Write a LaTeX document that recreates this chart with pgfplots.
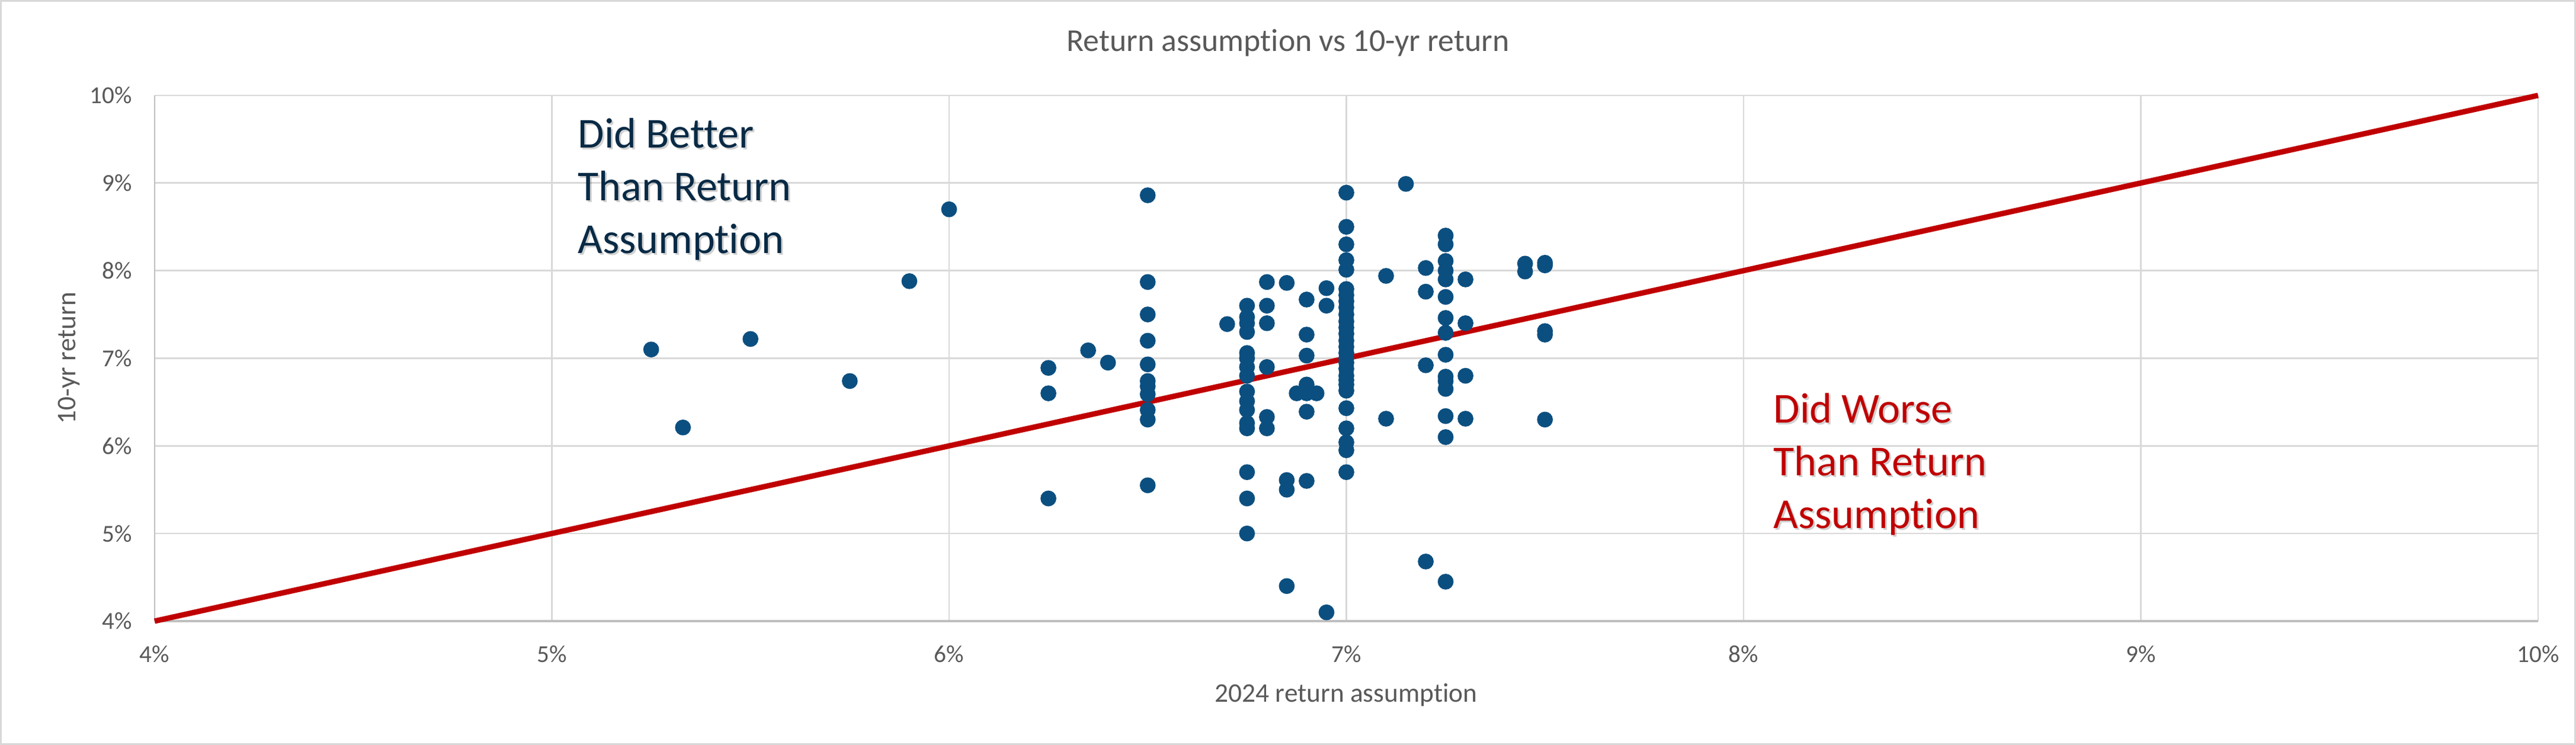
\documentclass[border=0pt]{standalone}
\usepackage{fontspec}
\setmainfont{Carlito}[Ligatures={NoCommon}]
\usepackage{pgfplots}
\pgfplotsset{compat=1.18}
\definecolor{gridgray}{HTML}{D9D9D9}
\definecolor{axisgray}{HTML}{BFBFBF}
\definecolor{txtgray}{HTML}{595959}
\definecolor{dotblue}{HTML}{0B4F80}
\definecolor{linered}{HTML}{C00000}
\definecolor{navytxt}{HTML}{082A45}
\begin{document}
\begin{tikzpicture}
\useasboundingbox (0,0) rectangle (434.8mm,125.7mm);
\draw[gridgray, line width=0.3mm] (0.15mm,0.15mm) rectangle (434.65mm,125.55mm);
\begin{axis}[
  scale only axis, width=402.3mm, height=88.7mm,
  at={(26.1mm,20.9mm)}, anchor=south west,
  xmin=4, xmax=10, ymin=4, ymax=10,
  xtick={4,...,10}, ytick={4,...,10},
  xticklabel={\pgfmathparse{int(round(\tick))}\pgfmathresult\%},
  yticklabel={\pgfmathparse{int(round(\tick))}\pgfmathresult\%},
  grid=major, major grid style={draw=gridgray, line width=0.27mm},
  axis x line*=bottom, axis y line*=left,
  x axis line style={draw=axisgray, line width=0.33mm, -},
  y axis line style={draw=axisgray, line width=0.23mm, -},
  major tick length=0pt, tick style={draw=none},
  ticklabel style={font=\fontsize{11.7}{14}\selectfont, text=txtgray},
  xticklabel style={yshift=-2.9mm},
  yticklabel style={xshift=-2.6mm},
  clip=false,
]
\addplot[linered, line width=2.6pt] coordinates {(4,4) (10,10)};
\addplot[only marks, mark=*, mark size=3.6pt, mark options={draw=dotblue, fill=dotblue}] coordinates {
(5.25,7.10) (5.33,6.21) (5.50,7.22) (5.75,6.74) (5.90,7.88) (6.00,8.70)
(6.25,6.89) (6.25,6.60) (6.25,5.40)
(6.35,7.09) (6.40,6.95)
(6.50,8.86) (6.50,7.87) (6.50,7.50) (6.50,7.20) (6.50,6.93) (6.50,6.74) (6.50,6.68) (6.50,6.59) (6.50,6.41) (6.50,6.30) (6.50,5.55)
(6.70,7.39)
(6.75,7.60) (6.75,7.47) (6.75,7.40) (6.75,7.30) (6.75,7.06) (6.75,7.00) (6.75,6.90) (6.75,6.80) (6.75,6.62) (6.75,6.51) (6.75,6.41) (6.75,6.26) (6.75,6.20) (6.75,5.70) (6.75,5.40) (6.75,5.00)
(6.80,7.87) (6.80,7.60) (6.80,7.40) (6.80,6.90) (6.80,6.33) (6.80,6.20)
(6.85,7.86) (6.85,5.61) (6.85,5.50) (6.85,4.40)
(6.875,6.60)
(6.90,7.67) (6.90,7.27) (6.90,7.03) (6.90,6.70) (6.90,6.60) (6.90,6.39) (6.90,5.60)
(6.925,6.60)
(6.95,7.80) (6.95,7.60) (6.95,4.10)
(7.00,8.89) (7.00,8.50) (7.00,8.30) (7.00,8.12) (7.00,8.01) (7.00,7.79) (7.00,7.72) (7.00,7.65) (7.00,7.58) (7.00,7.50) (7.00,7.42) (7.00,7.35) (7.00,7.28) (7.00,7.20) (7.00,7.13) (7.00,7.06) (7.00,7.00) (7.00,6.95) (7.00,6.88) (7.00,6.80) (7.00,6.75) (7.00,6.70) (7.00,6.63) (7.00,6.43) (7.00,6.20) (7.00,6.04) (7.00,5.95) (7.00,5.70)
(7.10,7.94) (7.10,6.31)
(7.15,8.99)
(7.20,8.03) (7.20,7.76) (7.20,6.92) (7.20,4.68)
(7.25,8.40) (7.25,8.30) (7.25,8.11) (7.25,8.00) (7.25,7.90) (7.25,7.70) (7.25,7.46) (7.25,7.29) (7.25,7.04) (7.25,6.79) (7.25,6.74) (7.25,6.65) (7.25,6.34) (7.25,6.10) (7.25,4.45)
(7.30,7.90) (7.30,7.40) (7.30,6.80) (7.30,6.31)
(7.45,8.08) (7.45,7.99)
(7.50,8.09) (7.50,8.06) (7.50,7.31) (7.50,7.27) (7.50,6.30)
};
\end{axis}
\node[anchor=base, font=\fontsize{15.3}{18}\selectfont, text=txtgray] at (217.4mm,117.0mm) {Return assumption vs 10-yr return};
\node[anchor=base, font=\fontsize{12.9}{15}\selectfont, text=txtgray] at (227.2mm,7.2mm) {2024 return assumption};
\node[rotate=90, anchor=center, font=\fontsize{12.9}{15}\selectfont, text=txtgray] at (11.6mm,65.3mm) {10-yr return};
% annotations with light shadow
\foreach \t/\yy in {Did Better/100.7, Than Return/91.8, Assumption/82.9}{
  \node[anchor=base west, inner sep=0pt, font=\fontsize{20.5}{24}\selectfont, text=black, opacity=0.18] at (97.8mm,\yy mm-0.3mm) {\t};
  \node[anchor=base west, inner sep=0pt, font=\fontsize{20.5}{24}\selectfont, text=navytxt] at (97.5mm,\yy mm) {\t};
}
\foreach \t/\yy in {Did Worse/54.3, Than Return/45.4, Assumption/36.5}{
  \node[anchor=base west, inner sep=0pt, font=\fontsize{20.5}{24}\selectfont, text=black, opacity=0.18] at (299.6mm,\yy mm-0.3mm) {\t};
  \node[anchor=base west, inner sep=0pt, font=\fontsize{20.5}{24}\selectfont, text=linered] at (299.3mm,\yy mm) {\t};
}
\end{tikzpicture}
\end{document}
